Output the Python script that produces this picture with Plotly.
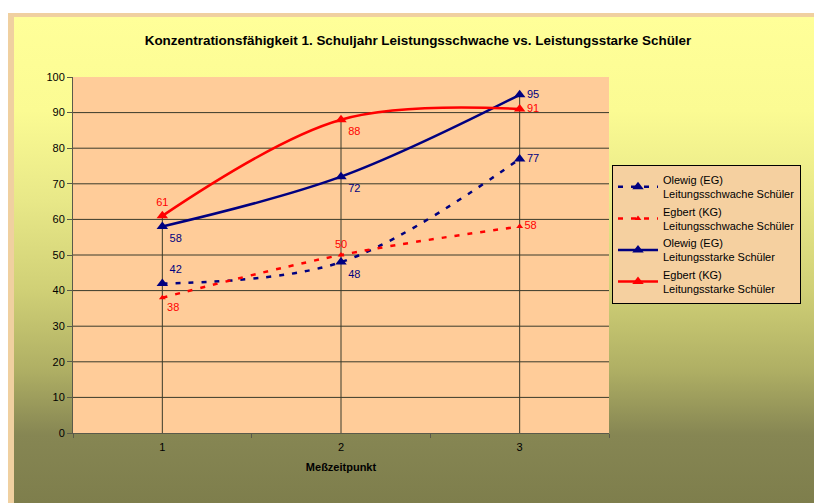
import base64
import plotly.graph_objects as go

# ---------------- data ----------------
categories = [1, 2, 3]
x_tick_labels = ["1", "2", "3"]
olewig_schwach = [42, 48, 77]
egbert_schwach = [38, 50, 58]
olewig_stark = [58, 72, 95]
egbert_stark = [61, 88, 91]
y_ticks = [0, 10, 20, 30, 40, 50, 60, 70, 80, 90, 100]

names = [
    "Olewig (EG)<br>Leitungsschwache Schüler",
    "Egbert (KG)<br>Leitungsschwache Schüler",
    "Olewig (EG)<br>Leitungsstarke Schüler",
    "Egbert (KG)<br>Leitungsstarke Schüler",
]

NAVY = "#000080"
RED = "#FF0000"
FONT = "Liberation Sans, Arial, sans-serif"
GRID = "#3a3a2a"

W, H = 814, 503
ML, MR, MT, MB = 73, 205, 77, 70
PW, PH = W - ML - MR, H - MT - MB

fig = go.Figure()

# drop lines from each category's highest value to the axis
series_all = [olewig_schwach, egbert_schwach, olewig_stark, egbert_stark]
dx, dy = [], []
for i, c in enumerate(categories):
    dx += [c, c, None]
    dy += [0, max(s[i] for s in series_all), None]
fig.add_trace(go.Scatter(x=dx, y=dy, mode="lines", line=dict(color=GRID, width=1),
                         showlegend=False, hoverinfo="skip"))

def add_series(vals, name, color, dash, msize, textpos):
    fig.add_trace(go.Scatter(
        x=categories, y=vals, name=name, mode="lines+markers+text",
        line=dict(color=color, width=2.5, dash=dash, shape="spline", smoothing=1),
        marker=dict(symbol="triangle-up", size=msize, color=color),
        text=[str(v) for v in vals], textposition=textpos,
        textfont=dict(color=color, size=11, family=FONT),
        cliponaxis=False,
    ))

add_series(olewig_schwach, names[0], NAVY, "5px,8px", 10, ["top right", "bottom right", "middle right"])
add_series(egbert_schwach, names[1], RED, "5px,8px", 6, ["bottom right", "top center", "middle right"])
add_series(olewig_stark, names[2], NAVY, "solid", 10, ["bottom right", "bottom right", "middle right"])
add_series(egbert_stark, names[3], RED, "solid", 10, ["top center", "bottom right", "middle right"])

# horizontal gridlines (not at the top edge)
for v in y_ticks[1:-1]:
    fig.add_shape(type="line", xref="paper", x0=0, x1=1, yref="y", y0=v, y1=v,
                  line=dict(color=GRID, width=1), layer="below")

# background: white margin, tan frame, yellow -> olive gradient, peach plot area
stops = [(17, "#FFFF99"), (110, "#FBFB93"), (200, "#E8E888"), (290, "#D0D076"),
         (370, "#AFAF64"), (435, "#868653"), (503, "#7E7E4C")]
stop_xml = "".join(
    f'<stop offset="{(y - 17) / (H - 17):.4f}" stop-color="{c}"/>' for y, c in stops)
svg = (f'<svg xmlns="http://www.w3.org/2000/svg" width="{W}" height="{H}" '
       f'viewBox="0 0 {W} {H}" preserveAspectRatio="none">'
       f'<defs><linearGradient id="g" x1="0" y1="0" x2="0" y2="1">{stop_xml}</linearGradient></defs>'
       f'<rect width="{W}" height="{H}" fill="#FFFFFF"/>'
       f'<rect x="8" y="13" width="{W - 8}" height="{H - 13}" fill="#F0D0A0"/>'
       f'<rect x="14" y="17" width="{W - 14}" height="{H - 17}" fill="url(#g)"/>'
       f'<rect x="{ML}" y="{MT}" width="{PW}" height="{PH}" fill="#FFCC99"/>'
       f'</svg>')
src = "data:image/svg+xml;base64," + base64.b64encode(svg.encode()).decode()
fig.add_layout_image(dict(
    source=src, xref="paper", yref="paper",
    x=-ML / PW, y=1 + MT / PH, sizex=W / PW, sizey=H / PH,
    xanchor="left", yanchor="top", sizing="stretch", layer="below",
))

fig.update_layout(
    width=W, height=H,
    margin=dict(l=ML, r=MR, t=MT, b=MB),
    paper_bgcolor="rgba(0,0,0,0)", plot_bgcolor="rgba(0,0,0,0)",
    font=dict(family=FONT, size=11, color="#000000"),
    title=dict(text="<b>Konzentrationsfähigkeit 1. Schuljahr Leistungsschwache vs. Leistungsstarke Schüler</b>",
               x=418 / W, xanchor="center", y=1 - 40 / H, yanchor="middle",
               font=dict(size=13.45, family=FONT, color="#000000")),
    showlegend=True,
    legend=dict(x=(612 - ML) / PW, y=(H - MB - 165) / PH, xanchor="left", yanchor="top",
                bgcolor="#F5D0A0", bordercolor="#000000", borderwidth=1,
                font=dict(size=11, family=FONT, color="#000000"),
                tracegroupgap=0, itemwidth=40, entrywidth=147, entrywidthmode="pixels"),
    xaxis=dict(range=[0.5, 3.5], tickvals=categories, ticktext=x_tick_labels,
               ticks="", showgrid=False, zeroline=False, ticklabelstandoff=4,
               showline=True, linecolor="#5a5a4a", linewidth=1,
               minor=dict(tick0=0.5, dtick=1, ticks="outside", ticklen=4,
                          tickcolor="#5a5a4a", showgrid=False),
               title=dict(text="<b>Meßzeitpunkt</b>", font=dict(size=11, family=FONT), standoff=11),
               tickfont=dict(size=11)),
    yaxis=dict(range=[0, 100], tickvals=y_ticks, ticks="outside", ticklen=5,
               tickcolor="#5a5a4a", showgrid=False,
               zeroline=False, showline=True, linecolor="#5a5a4a", linewidth=1,
               tickfont=dict(size=11)),
)

fig.write_html("out.html", config={"displayModeBar": False},
               post_script="document.body.style.margin='0';document.body.style.overflow='hidden';")
